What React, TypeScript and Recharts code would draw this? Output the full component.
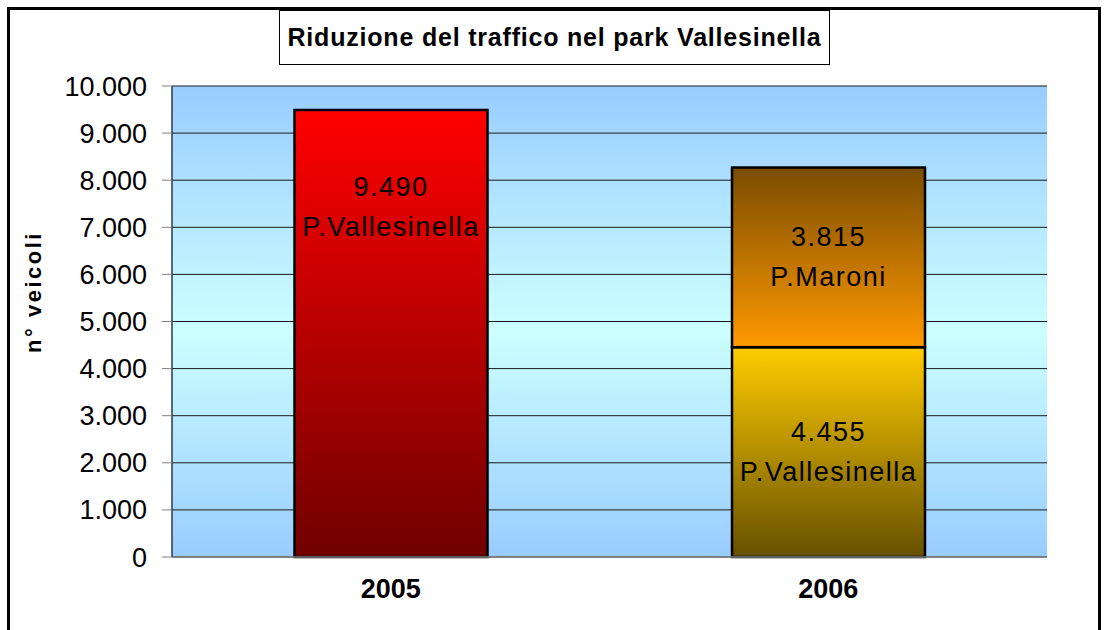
import { BarChart, Bar, XAxis, YAxis, CartesianGrid, Cell, LabelList, Label } from "recharts";

const years = ["2005", "2006"];
const vallesinella = [9490, 4455];
const maroni: (number | null)[] = [null, 3815];
const yTicks = [0, 1000, 2000, 3000, 4000, 5000, 6000, 7000, 8000, 9000, 10000];

const data = years.map((year, i) => ({
  year,
  vallesinella: vallesinella[i],
  maroni: maroni[i]
}));

const font = "'Liberation Sans', Arial, sans-serif";

const fmt = (n: number) => String(n).replace(/\B(?=(\d{3})+(?!\d))/g, ".");

// two-line label (value + park name); the 2005 one sits near the top of the bar like the original
const barLabel = (name: string, topOffset?: number) => (props: any) => {
  const { x, y, width, height, value, index } = props;
  if (value == null) return null;
  const cx = x + width / 2;
  const cy = topOffset != null && index === 0 ? y + topOffset : y + height / 2;
  return (
    <g fontFamily={font} fontSize={27} fill="#000" letterSpacing={1.5}>
      <text x={cx} y={cy - 20} textAnchor="middle" dominantBaseline="central">{fmt(value)}</text>
      <text x={cx} y={cy + 20} textAnchor="middle" dominantBaseline="central">{name}</text>
    </g>
  );
};

export default function App() {
  return (
    <div style={{ position: "absolute", left: 0, top: 0, width: 1104, height: 630, overflow: "hidden", background: "#fff", fontFamily: font }}>
      <div style={{ position: "absolute", left: 7, top: 7, width: 1094, height: 640, border: "3px solid #000", boxSizing: "border-box" }} />
      <BarChart width={1104} height={630} data={data} margin={{ top: 86, right: 57, bottom: 0, left: 0 }} barCategoryGap="28%" style={{ position: "absolute", left: 0, top: 0 }}>
        <defs>
          <linearGradient id="bg" x1="0" y1="0" x2="0" y2="1">
            <stop offset="0" stopColor="#99CCFF" />
            <stop offset="0.52" stopColor="#CCFFFF" />
            <stop offset="1" stopColor="#99CCFF" />
          </linearGradient>
          <linearGradient id="red" x1="0" y1="0" x2="0" y2="1">
            <stop offset="0" stopColor="#FF0000" />
            <stop offset="1" stopColor="#700000" />
          </linearGradient>
          <linearGradient id="gold" x1="0" y1="0" x2="0" y2="1">
            <stop offset="0" stopColor="#FFCC00" />
            <stop offset="1" stopColor="#665000" />
          </linearGradient>
          <linearGradient id="brown" x1="0" y1="0" x2="0" y2="1">
            <stop offset="0" stopColor="#7A4C00" />
            <stop offset="1" stopColor="#FF9900" />
          </linearGradient>
        </defs>
        <CartesianGrid vertical={false} fill="url(#bg)" fillOpacity={1} stroke="#1a1a1a" strokeWidth={1} />
        <XAxis dataKey="year" height={73} tickLine={false} tickSize={0} tickMargin={22} axisLine={{ stroke: "#808080", strokeWidth: 1.5 }}
          tick={{ fontFamily: font, fontSize: 27, fontWeight: "bold", fill: "#000" }} />
        <YAxis width={172} domain={[0, 10000]} ticks={yTicks} tickFormatter={fmt} interval={0} tickSize={10} tickMargin={15}
          axisLine={{ stroke: "#2a3a4a", strokeWidth: 1.5 }} tickLine={{ stroke: "#808080" }}
          tick={{ fontFamily: font, fontSize: 27, fill: "#000" }}>
          <Label content={() => (
            <text x={33} y={292} transform="rotate(-90 33 292)" textAnchor="middle" dominantBaseline="central"
              fontFamily={font} fontSize={22} fontWeight="bold" letterSpacing={2.5} fill="#000">n° veicoli</text>
          )} />
        </YAxis>
        <YAxis yAxisId="r" orientation="right" width={0} domain={[0, 10000]} tick={false} tickLine={false} axisLine={{ stroke: "#808080", strokeWidth: 1.5 }} />
        <Bar dataKey="vallesinella" stackId="a" stroke="#000" strokeWidth={2.5} isAnimationActive={false}>
          {data.map((_, i) => <Cell key={i} fill={i === 0 ? "url(#red)" : "url(#gold)"} />)}
          <LabelList dataKey="vallesinella" content={barLabel("P.Vallesinella", 97)} />
        </Bar>
        <Bar dataKey="maroni" stackId="a" fill="url(#brown)" stroke="#000" strokeWidth={2.5} isAnimationActive={false}>
          <LabelList dataKey="maroni" content={barLabel("P.Maroni")} />
        </Bar>
      </BarChart>
      <div style={{ position: "absolute", left: 279, top: 10, width: 551, height: 55, border: "1px solid #000", boxSizing: "border-box", background: "#fff",
        display: "flex", alignItems: "center", justifyContent: "center", fontSize: 25, fontWeight: "bold", color: "#000", letterSpacing: 0.8, whiteSpace: "nowrap" }}>
        Riduzione del traffico nel park Vallesinella
      </div>
    </div>
  );
}
